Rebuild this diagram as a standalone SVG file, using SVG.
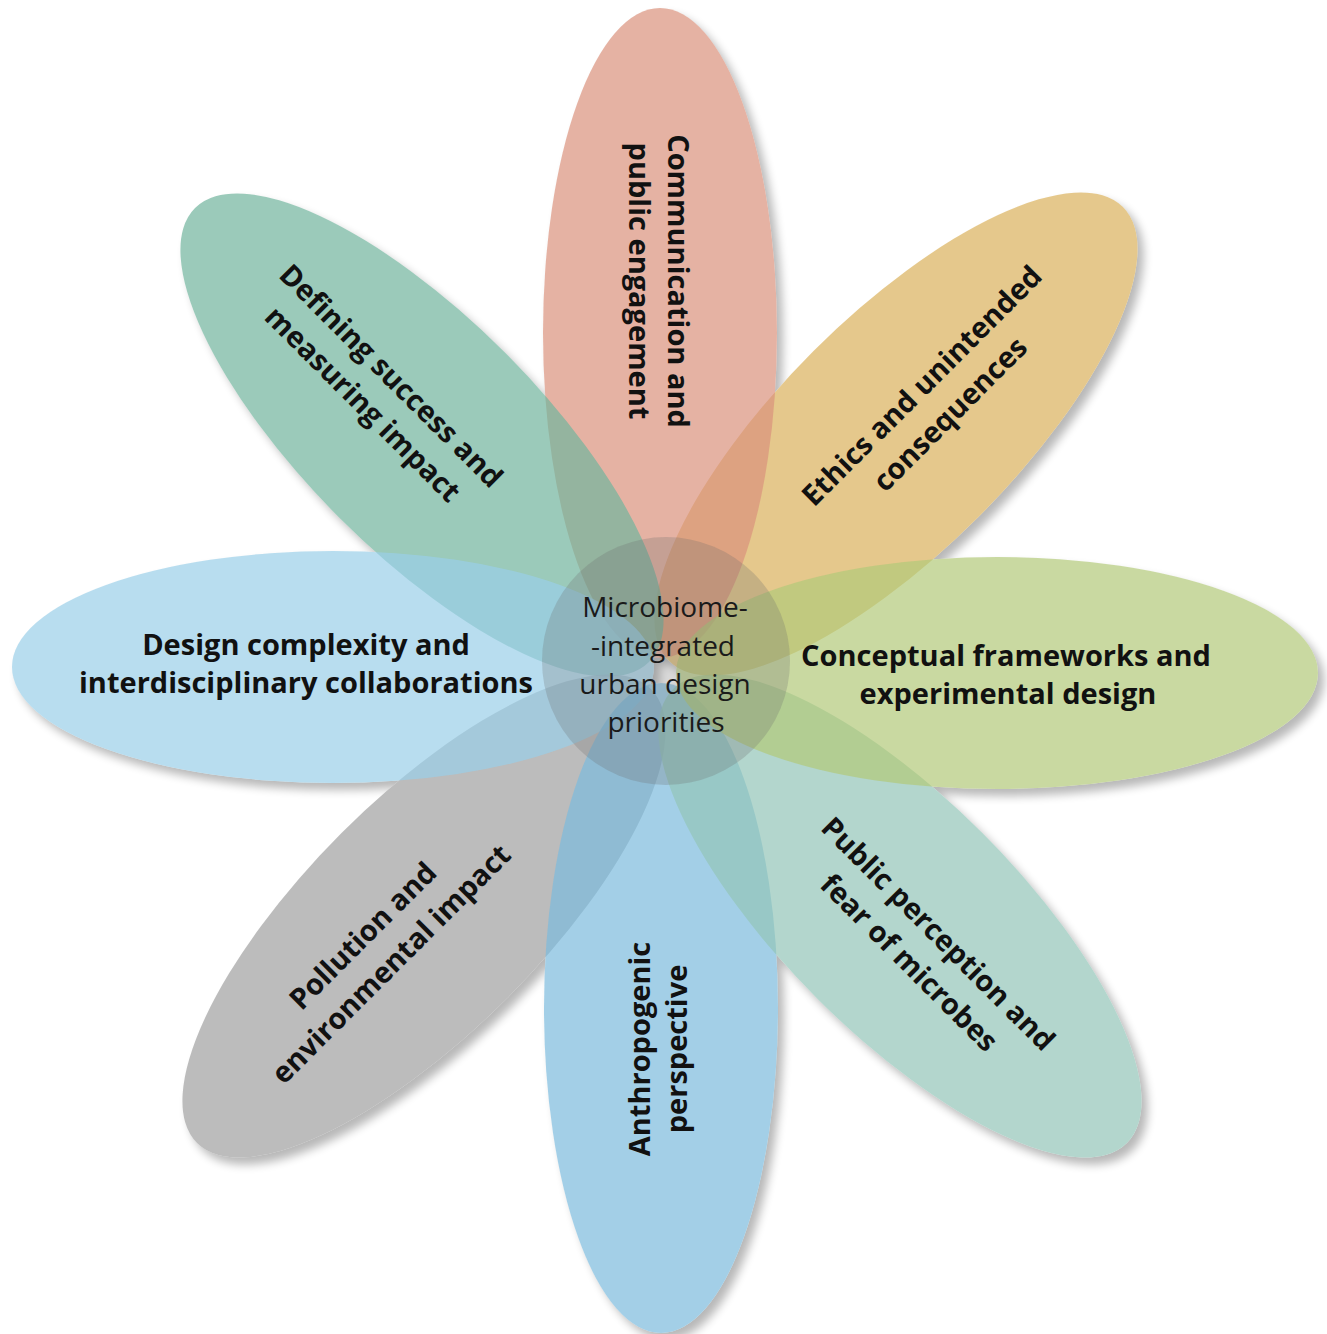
<svg xmlns="http://www.w3.org/2000/svg" width="1327" height="1334" viewBox="0 0 1327 1334">
<style>
.lbl{font-family:"Open Sans","Noto Sans","Liberation Sans",sans-serif;font-weight:700;font-size:29px;fill:#111;text-anchor:middle}
.ctr{font-family:"Open Sans","Noto Sans","Liberation Sans",sans-serif;font-weight:400;font-size:28px;fill:#1a1a1a;text-anchor:middle}
.petal{opacity:0.7}
</style>
<defs>
<ellipse id="e-top" cx="660" cy="333" rx="117" ry="325"/>
<ellipse id="e-bottom" cx="661" cy="1008" rx="117" ry="325"/>
<ellipse id="e-left" cx="333" cy="667" rx="321" ry="116"/>
<ellipse id="e-right" cx="997" cy="673" rx="321" ry="116"/>
<ellipse id="e-tl" cx="422" cy="435" rx="321" ry="117" transform="rotate(45 422 435)"/>
<ellipse id="e-tr" cx="896" cy="434" rx="321" ry="117" transform="rotate(-45 896 434)"/>
<ellipse id="e-br" cx="900" cy="916" rx="321" ry="117" transform="rotate(45 900 916)"/>
<ellipse id="e-bl" cx="424" cy="916" rx="321" ry="117" transform="rotate(-45 424 916)"/>
<filter id="soft" x="-10%" y="-10%" width="120%" height="120%"><feGaussianBlur stdDeviation="5"/></filter>
</defs>
<rect width="1327" height="1334" fill="#fff"/>
<g id="petal-shadows" fill="#000" opacity="0.28" filter="url(#soft)">
<g transform="translate(6,7)">
<use href="#e-top"/><use href="#e-bottom"/><use href="#e-left"/><use href="#e-right"/>
<use href="#e-tl"/><use href="#e-tr"/><use href="#e-br"/><use href="#e-bl"/>
</g>
</g>
<g id="petal-underlay" fill="#fff">
<use href="#e-top"/><use href="#e-bottom"/><use href="#e-left"/><use href="#e-right"/>
<use href="#e-tl"/><use href="#e-tr"/><use href="#e-br"/><use href="#e-bl"/>
</g>
<g id="node-ethics">
<use href="#e-tr" class="petal" fill="#DBB25C"/>
<g transform="translate(936,400) rotate(-45)">
<text class="lbl" x="0" y="-10">Ethics and unintended</text>
<text class="lbl" x="0" y="30">consequences</text>
</g>
</g>
<g id="node-communication">
<use href="#e-top" class="petal" fill="#DA927C"/>
<g transform="translate(658,281) rotate(90)">
<text class="lbl" x="0" y="-10">Communication and</text>
<text class="lbl" x="0" y="29">public engagement</text>
</g>
</g>
<g id="node-defining-success">
<use href="#e-tl" class="petal" fill="#72B59E"/>
<g transform="translate(377,390) rotate(45)">
<text class="lbl" x="0" y="-10">Defining success and</text>
<text class="lbl" x="0" y="30">measuring impact</text>
</g>
</g>
<g id="node-pollution">
<use href="#e-bl" class="petal" fill="#A1A1A1"/>
<g transform="translate(377,950) rotate(-45)">
<text class="lbl" x="0" y="-10">Pollution and</text>
<text class="lbl" x="0" y="30">environmental impact</text>
</g>
</g>
<g id="node-design-complexity">
<use href="#e-left" class="petal" fill="#9ACEE8"/>
<text class="lbl" x="306" y="655">Design complexity and</text>
<text class="lbl" x="306" y="693">interdisciplinary collaborations</text>
</g>
<g id="node-anthropogenic">
<use href="#e-bottom" class="petal" fill="#7CBADD"/>
<g transform="translate(658,1049) rotate(-90)">
<text class="lbl" x="0" y="-8">Anthropogenic</text>
<text class="lbl" x="0" y="29">perspective</text>
</g>
</g>
<g id="node-public-perception">
<use href="#e-br" class="petal" fill="#94C6B9"/>
<g transform="translate(924,948) rotate(45)">
<text class="lbl" x="0" y="-10">Public perception and</text>
<text class="lbl" x="0" y="31">fear of microbes</text>
</g>
</g>
<g id="node-conceptual">
<use href="#e-right" class="petal" fill="#B2C979"/>
<text class="lbl" x="1006" y="666">Conceptual frameworks and</text>
<text class="lbl" x="1008" y="704">experimental design</text>
</g>
<g id="node-center">
<circle cx="666" cy="661" r="124" fill="#6e6e6e" opacity="0.26"/>
<text class="ctr" x="665" y="617">Microbiome-</text>
<text class="ctr" x="663" y="656">-integrated</text>
<text class="ctr" x="665" y="694">urban design</text>
<text class="ctr" x="666" y="732">priorities</text>
</g>
</svg>
